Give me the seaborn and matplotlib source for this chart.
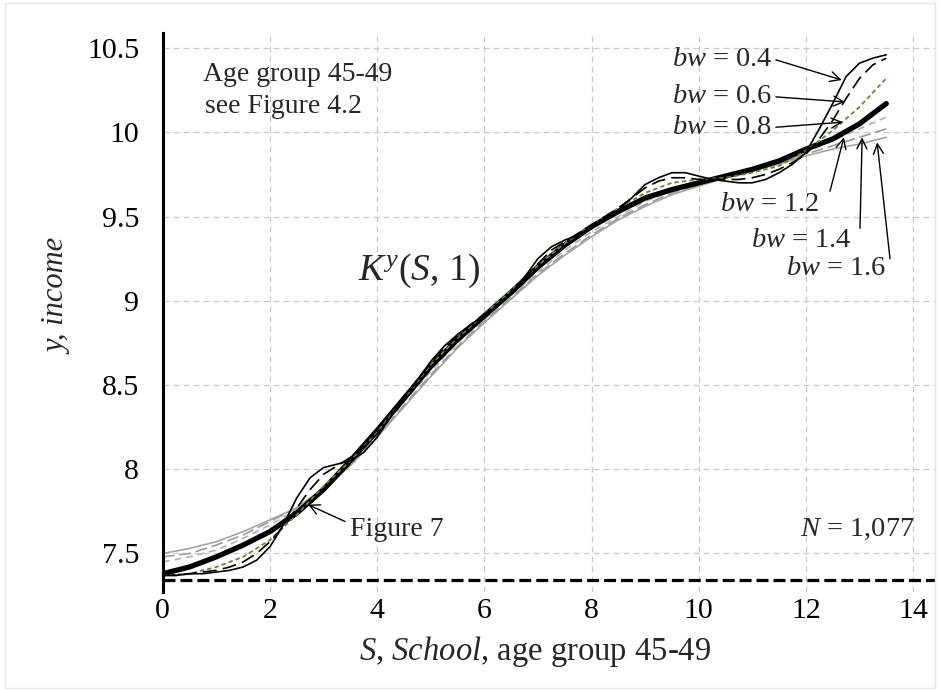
import matplotlib
matplotlib.use("Agg")
import matplotlib.pyplot as plt
import pandas as pd
import seaborn as sns
from matplotlib.patches import Rectangle

# Years of schooling at which the kernel fits are evaluated
school = [0.0, 0.5, 1.0, 1.5, 2.0, 2.5, 3.0, 3.5, 4.0, 4.5, 5.0, 5.5, 6.0, 6.5,
          7.0, 7.5, 8.0, 8.5, 9.0, 9.5, 10.0, 10.5, 11.0, 11.5, 12.0, 12.5, 13.0, 13.5]
# Finer grid for the wiggly small-bandwidth fits
school_fine = [0.0, 0.25, 0.5, 0.75, 1.0, 1.25, 1.5, 1.75, 2.0, 2.25, 2.5, 2.75,
               3.0, 3.25, 3.5, 3.75, 4.0, 4.25, 4.5, 4.75, 5.0, 5.25, 5.5, 5.75,
               6.0, 6.25, 6.5, 6.75, 7.0, 7.25, 7.5, 7.75, 8.0, 8.25, 8.5, 8.75,
               9.0, 9.25, 9.5, 9.75, 10.0, 10.25, 10.5, 10.75, 11.0, 11.25, 11.5,
               11.75, 12.0, 12.25, 12.5, 12.75, 13.0, 13.25, 13.5]

# Kernel regression of log income on schooling, one curve per bandwidth
fit_bw04 = [7.37, 7.37, 7.38, 7.38, 7.39, 7.40, 7.42, 7.46, 7.54, 7.67, 7.83, 7.95,
            8.01, 8.03, 8.05, 8.10, 8.19, 8.31, 8.43, 8.53, 8.64, 8.73, 8.80, 8.86,
            8.91, 8.97, 9.04, 9.14, 9.25, 9.32, 9.36, 9.39, 9.44, 9.49, 9.54, 9.61,
            9.69, 9.73, 9.76, 9.76, 9.74, 9.72, 9.71, 9.70, 9.70, 9.72, 9.76,
            9.81, 9.88, 10.02, 10.17, 10.33, 10.41, 10.44, 10.46]
fit_bw06 = [7.37, 7.37, 7.38, 7.39, 7.40, 7.42, 7.45, 7.50, 7.57, 7.66, 7.77, 7.88,
            7.97, 8.02, 8.07, 8.13, 8.21, 8.31, 8.42, 8.53, 8.63, 8.72, 8.79, 8.86,
            8.92, 8.98, 9.05, 9.13, 9.22, 9.30, 9.35, 9.40, 9.45, 9.50, 9.55, 9.61,
            9.67, 9.71, 9.73, 9.73, 9.72, 9.72, 9.72, 9.72, 9.73, 9.75, 9.78,
            9.82, 9.87, 9.96, 10.07, 10.20, 10.32, 10.40, 10.44]
fit_bw08 = [7.37, 7.38, 7.42, 7.48, 7.58, 7.73, 7.90, 8.05, 8.22, 8.42, 8.62, 8.78,
            8.92, 9.06, 9.21, 9.34, 9.45, 9.55, 9.64, 9.70, 9.72, 9.73, 9.76, 9.80,
            9.89, 10.01, 10.15, 10.32]
fit_bw10 = [7.38, 7.42, 7.48, 7.55, 7.63, 7.74, 7.88, 8.05, 8.23, 8.42, 8.61, 8.77,
            8.91, 9.05, 9.20, 9.33, 9.44, 9.53, 9.61, 9.66, 9.70, 9.74, 9.78, 9.83,
            9.90, 9.96, 10.05, 10.17]
fit_bw12 = [7.45, 7.48, 7.52, 7.59, 7.67, 7.76, 7.89, 8.04, 8.21, 8.40, 8.58, 8.75,
            8.89, 9.03, 9.17, 9.30, 9.41, 9.50, 9.59, 9.65, 9.69, 9.73, 9.77, 9.82,
            9.88, 9.95, 10.02, 10.09]
fit_bw14 = [7.48, 7.50, 7.55, 7.61, 7.69, 7.77, 7.89, 8.03, 8.20, 8.38, 8.56, 8.73,
            8.88, 9.02, 9.16, 9.28, 9.39, 9.49, 9.57, 9.64, 9.69, 9.73, 9.77, 9.82,
            9.87, 9.92, 9.97, 10.02]
fit_bw16 = [7.50, 7.53, 7.57, 7.63, 7.70, 7.77, 7.88, 8.02, 8.19, 8.37, 8.55, 8.72,
            8.87, 9.01, 9.15, 9.27, 9.38, 9.48, 9.56, 9.63, 9.68, 9.73, 9.77, 9.81,
            9.86, 9.90, 9.93, 9.97]

y_ticks = [7.5, 8.0, 8.5, 9.0, 9.5, 10.0, 10.5]
y_tick_labels = ["7.5", "8", "8.5", "9", "9.5", "10", "10.5"]
x_ticks = [0, 2, 4, 6, 8, 10, 12, 14]
x_tick_labels = ["0", "2", "4", "6", "8", "10", "12", "14"]
baseline_income = 7.343

sns.set_style("white")
plt.rcParams["font.family"] = ["Liberation Serif", "DejaVu Serif"]
plt.rcParams["mathtext.fontset"] = "custom"
plt.rcParams["mathtext.rm"] = "Liberation Serif"
plt.rcParams["mathtext.it"] = "Liberation Serif:italic"
plt.rcParams["mathtext.bf"] = "Liberation Serif:bold"
plt.rcParams["lines.scale_dashes"] = False

fig = plt.figure(figsize=(9.4, 6.91), dpi=100)
fig.patches.append(Rectangle((0.005, 0.004), 0.99, 0.992, transform=fig.transFigure,
                             fill=False, edgecolor="#e2e7eb", linewidth=1.0))
ax = fig.add_axes([0.1732, 0.1433, 0.8215, 0.8089])

# Curve styling per bandwidth (drawn widest bandwidth first)
styles = [
    ("1.6", school, fit_bw16, "#a4a4a4", 1.2, "-"),
    ("1.4", school, fit_bw14, "#9a9a9a", 1.2, (0, (8.5, 3.5))),
    ("1.2", school, fit_bw12, "#b0b0b0", 1.2, (0, (5.0, 3.5))),
    ("1.0", school, fit_bw10, "black", 3.8, "-"),
    ("0.8", school, fit_bw08, "#5f8a3a", 1.3, (0, (3.2, 2.2))),
    ("0.6", school_fine, fit_bw06, "black", 1.2, (0, (10, 4.5))),
    ("0.4", school_fine, fit_bw04, "black", 1.2, "-"),
]
for bw, xs, ys, col, lw, ls in styles:
    frame = pd.DataFrame({"school": xs, "income": ys})
    sns.lineplot(data=frame, x="school", y="income", ax=ax, color=col,
                 linewidth=lw, linestyle=ls, errorbar=None, legend=False)

ax.axhline(baseline_income, color="black", linewidth=2.3,
           linestyle=(0, (8.6, 3.6)), zorder=3)

ax.set_xlim(0, 14.41)
ax.set_ylim(7.2715, 10.589)
ax.set_xticks(x_ticks)
ax.set_xticklabels(x_tick_labels)
ax.set_yticks(y_ticks)
ax.set_yticklabels(y_tick_labels)
ax.grid(True, color="#c9c9c9", linestyle=(0, (4.3, 2.9)), linewidth=0.9)
ax.set_axisbelow(True)
for side in ("top", "right", "bottom"):
    ax.spines[side].set_visible(False)
ax.spines["left"].set_linewidth(2.2)
ax.spines["left"].set_color("black")
ax.tick_params(axis="both", length=0, labelsize=21.5, colors="black")
ax.tick_params(axis="y", pad=17)
ax.tick_params(axis="x", pad=4)

ax.set_xlabel(r"$S$, $\mathit{School}$, age group 45-49", fontsize=23.5, va="center")
ax.xaxis.set_label_coords(0.482, -0.107)
ax.set_ylabel("y, income", fontsize=22, style="italic", va="center")
ax.yaxis.set_label_coords(-0.136, 0.528)

# Annotations
ax.text(0.75, 10.34, "Age group 45-49", fontsize=20, va="center", ha="left")
ax.text(0.79, 10.15, "see Figure 4.2", fontsize=20, va="center", ha="left")
ax.text(3.64, 9.18, r"$K^{y}(S,\,1)$", fontsize=27, va="center", ha="left")
ax.text(14.04, 7.64, r"$N$ = 1,077", fontsize=20.5, va="center", ha="right")

arrow = dict(arrowstyle="->", color="black", lw=1.0, shrinkA=0, shrinkB=0,
             mutation_scale=18)

ax.text(3.49, 7.64, "Figure 7", fontsize=20, va="center", ha="left")
ax.annotate("", xy=(2.71, 7.79), xytext=(3.40, 7.69), arrowprops=arrow)

labels_left = [("0.4", 10.43, (12.67, 10.31)),
               ("0.6", 10.21, (12.73, 10.18)),
               ("0.8", 10.03, (12.69, 10.06))]
for bw, ty, head in labels_left:
    ax.text(11.38, ty, r"$bw$ = " + bw, fontsize=20.5, va="center", ha="right")
    ax.annotate("", xy=head, xytext=(11.44, ty), arrowprops=arrow)

labels_below = [("1.2", (11.33, 9.57), (12.45, 9.65), (12.71, 9.97)),
                ("1.4", (11.91, 9.36), (13.01, 9.43), (13.05, 9.97)),
                ("1.6", (12.56, 9.19), (13.57, 9.25), (13.33, 9.94))]
for bw, pos, tail, head in labels_below:
    ax.text(pos[0], pos[1], r"$bw$ = " + bw, fontsize=20.5, va="center", ha="center")
    ax.annotate("", xy=head, xytext=tail, arrowprops=arrow)

fig.savefig("out.png", dpi=100)
